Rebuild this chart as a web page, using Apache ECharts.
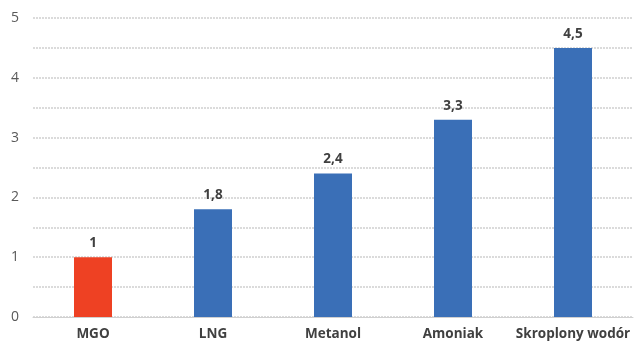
<!DOCTYPE html>
<html>
<head>
<meta charset="utf-8">
<script src="https://cdn.jsdelivr.net/npm/echarts@6/dist/echarts.min.js"></script>
<style>
html,body{margin:0;padding:0;background:#fff;}
#chart{width:634px;height:342px;}
</style>
</head>
<body>
<div id="chart"></div>
<script>
// Relative fuel volume per unit of energy
const categories = ['MGO', 'LNG', 'Metanol', 'Amoniak', 'Skroplony wodór'];
const values = [1, 1.8, 2.4, 3.3, 4.5];
const barColors = ['#EE4123', '#3A6FB7', '#3A6FB7', '#3A6FB7', '#3A6FB7'];
const yTicks = [0, 1, 2, 3, 4, 5];

const chart = echarts.init(document.getElementById('chart'));
chart.setOption({
  animation: false,
  textStyle: { fontFamily: 'Open Sans' },
  grid: { left: 33, right: 1, top: 18, bottom: 25, containLabel: false },
  xAxis: {
    type: 'category',
    data: categories,
    axisLine: { show: true, lineStyle: { color: '#D0D0D0', width: 1 } },
    axisTick: { show: false },
    axisLabel: { interval: 0, color: '#404040', fontWeight: 'bold', fontSize: 13.5, margin: 10 }
  },
  yAxis: {
    type: 'value',
    min: 0,
    max: 5,
    interval: 0.5,
    axisLine: { show: false },
    axisTick: { show: false },
    splitLine: { lineStyle: { color: '#CFCFCF', type: [2, 1], width: 1.5 } },
    axisLabel: {
      color: '#595959',
      fontSize: 14,
      margin: 14,
      formatter: v => (yTicks.includes(v) ? String(v) : '')
    }
  },
  series: [{
    type: 'bar',
    barWidth: 38,
    data: values.map((v, i) => ({ value: v, itemStyle: { color: barColors[i] } })),
    label: {
      show: true,
      position: 'top',
      distance: 7,
      color: '#404040',
      fontWeight: 'bold',
      fontSize: 13.5,
      formatter: p => String(p.value).replace('.', ',')
    }
  }]
});
</script>
</body>
</html>
